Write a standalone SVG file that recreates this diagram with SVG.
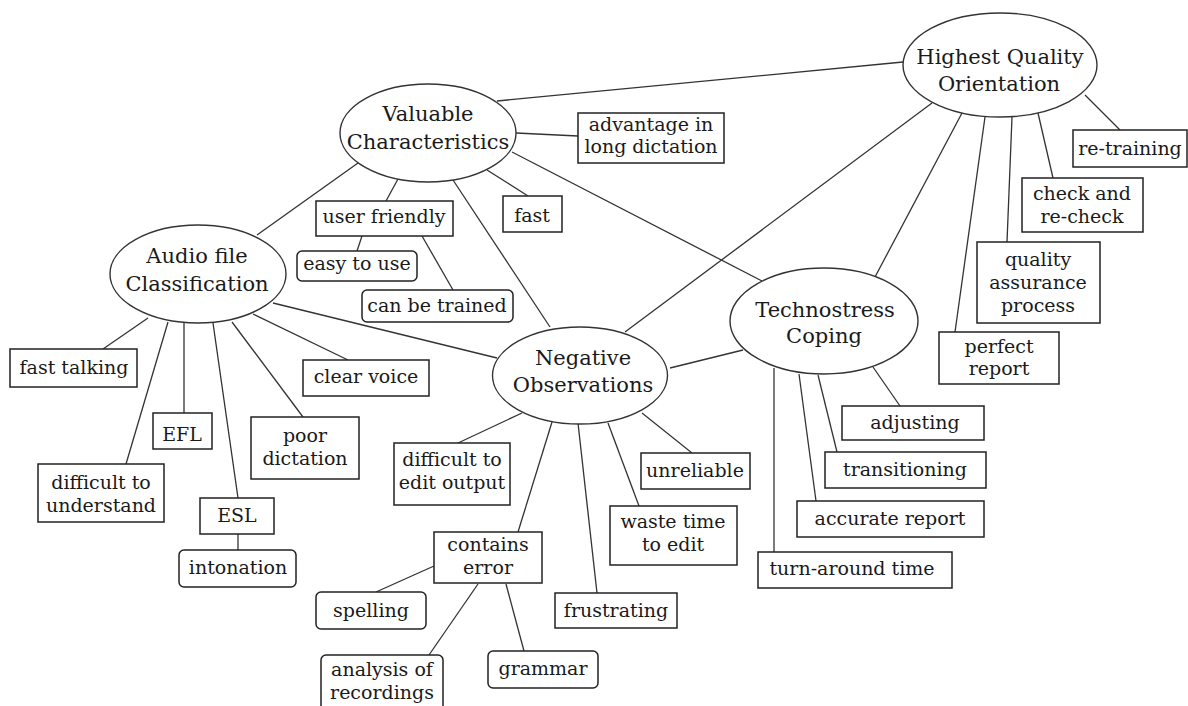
<svg xmlns="http://www.w3.org/2000/svg" width="1188" height="706" viewBox="0 0 1188 706">
<style>
.bg{fill:#fff}
.c line{stroke:#333;stroke-width:1.3;fill:none}
.e{fill:#fff;stroke:#333;stroke-width:1.4}
.b{fill:#fff;stroke:#222;stroke-width:1.5}
.r{fill:#fff;stroke:#222;stroke-width:1.5}
.t{font-family:"DejaVu Serif","Liberation Serif",serif;font-size:19px;fill:#1a1a1a;text-anchor:middle}
.T{font-family:"DejaVu Serif","Liberation Serif",serif;font-size:21px;fill:#1a1a1a;text-anchor:middle}
</style>
<rect class="bg" x="0" y="0" width="1188" height="706"/>
<g id="connectors" class="c">
<line x1="497" y1="101" x2="903" y2="62"/>
<line x1="516" y1="133" x2="578" y2="136"/>
<line x1="398" y1="179" x2="386" y2="201"/>
<line x1="358" y1="163" x2="257" y2="235"/>
<line x1="453" y1="180" x2="550" y2="327"/>
<line x1="487" y1="170" x2="528" y2="196"/>
<line x1="512" y1="152" x2="762" y2="281"/>
<line x1="362" y1="236" x2="357" y2="251"/>
<line x1="422" y1="236" x2="453" y2="290"/>
<line x1="1085" y1="95" x2="1120" y2="130"/>
<line x1="1038" y1="113" x2="1053" y2="178"/>
<line x1="1012" y1="117" x2="1007" y2="242"/>
<line x1="985" y1="117" x2="955" y2="332"/>
<line x1="962" y1="113" x2="875" y2="277"/>
<line x1="932" y1="103" x2="625" y2="332"/>
<line x1="148" y1="318" x2="103" y2="349"/>
<line x1="168" y1="322" x2="126" y2="464"/>
<line x1="184" y1="323" x2="184" y2="413"/>
<line x1="213" y1="323" x2="238" y2="498"/>
<line x1="238" y1="534" x2="238" y2="550"/>
<line x1="232" y1="322" x2="303" y2="417"/>
<line x1="253" y1="314" x2="348" y2="360"/>
<line x1="273" y1="303" x2="497" y2="358"/>
<line x1="522" y1="413" x2="458" y2="443"/>
<line x1="552" y1="422" x2="518" y2="532"/>
<line x1="578" y1="423" x2="597" y2="593"/>
<line x1="608" y1="423" x2="639" y2="506"/>
<line x1="642" y1="413" x2="692" y2="453"/>
<line x1="670" y1="368" x2="743" y2="350"/>
<line x1="434" y1="566" x2="376" y2="592"/>
<line x1="478" y1="584" x2="429" y2="655"/>
<line x1="506" y1="584" x2="524" y2="651"/>
<line x1="873" y1="367" x2="900" y2="406"/>
<line x1="818" y1="375" x2="837" y2="452"/>
<line x1="799" y1="374" x2="816" y2="501"/>
<line x1="774" y1="368" x2="774" y2="552"/>
</g>
<g id="valuable"><ellipse class="e" cx="428" cy="133" rx="88" ry="49"/><text class="T" x="428" y="121">Valuable</text><text class="T" x="428" y="149">Characteristics</text></g>
<g id="highest"><ellipse class="e" cx="1000" cy="65" rx="97" ry="52"/><text class="T" x="1000" y="64">Highest Quality</text><text class="T" x="999" y="91">Orientation</text></g>
<g id="audio"><ellipse class="e" cx="198" cy="274" rx="88" ry="49"/><text class="T" x="197" y="263">Audio file</text><text class="T" x="197" y="291">Classification</text></g>
<g id="negative"><ellipse class="e" cx="580" cy="375.5" rx="87.5" ry="48.5"/><text class="T" x="583" y="365">Negative</text><text class="T" x="583" y="392">Observations</text></g>
<g id="techno"><ellipse class="e" cx="824" cy="321" rx="94" ry="53"/><text class="T" x="825" y="317">Technostress</text><text class="T" x="824" y="343">Coping</text></g>

<g id="advantage"><rect class="b" x="578" y="113" width="146" height="50"/><text class="t" x="651" y="131">advantage in</text><text class="t" x="651" y="153">long dictation</text></g>
<g id="userfriendly"><rect class="b" x="316" y="201" width="137" height="35"/><text class="t" x="384" y="223">user friendly</text></g>
<g id="fast"><rect class="b" x="503" y="196" width="59" height="36"/><text class="t" x="532" y="222">fast</text></g>
<g id="easy"><rect class="r" x="297" y="251" width="120" height="30" rx="5"/><text class="t" x="357" y="270">easy to use</text></g>
<g id="trained"><rect class="r" x="362" y="290" width="151" height="32" rx="5"/><text class="t" x="437" y="312">can be trained</text></g>
<g id="retraining"><rect class="b" x="1073" y="130" width="114" height="37"/><text class="t" x="1130" y="155">re-training</text></g>
<g id="check"><rect class="b" x="1022" y="178" width="121" height="54"/><text class="t" x="1082" y="200">check and</text><text class="t" x="1082" y="223">re-check</text></g>
<g id="quality"><rect class="b" x="977" y="242" width="123" height="81"/><text class="t" x="1038" y="266">quality</text><text class="t" x="1038" y="289">assurance</text><text class="t" x="1038" y="312">process</text></g>
<g id="perfect"><rect class="b" x="939" y="332" width="120" height="52"/><text class="t" x="999" y="353">perfect</text><text class="t" x="999" y="375">report</text></g>
<g id="fasttalking"><rect class="b" x="10" y="349" width="127" height="38"/><text class="t" x="74" y="374">fast talking</text></g>
<g id="efl"><rect class="b" x="153" y="413" width="59" height="36"/><text class="t" x="182" y="441">EFL</text></g>
<g id="poor"><rect class="b" x="251" y="417" width="108" height="62"/><text class="t" x="305" y="442">poor</text><text class="t" x="305" y="465">dictation</text></g>
<g id="clear"><rect class="b" x="303" y="360" width="126" height="36"/><text class="t" x="366" y="383">clear voice</text></g>
<g id="difficult"><rect class="b" x="38" y="464" width="126" height="58"/><text class="t" x="101" y="489">difficult to</text><text class="t" x="101" y="512">understand</text></g>
<g id="esl"><rect class="b" x="200" y="498" width="74" height="36"/><text class="t" x="237" y="522">ESL</text></g>
<g id="intonation"><rect class="r" x="179" y="550" width="117" height="37" rx="5"/><text class="t" x="238" y="574">intonation</text></g>
<g id="editoutput"><rect class="b" x="394" y="443" width="116" height="62"/><text class="t" x="452" y="466">difficult to</text><text class="t" x="452" y="489">edit output</text></g>
<g id="contains"><rect class="b" x="434" y="532" width="108" height="51"/><text class="t" x="488" y="551">contains</text><text class="t" x="488" y="574">error</text></g>
<g id="spelling"><rect class="r" x="316" y="592" width="110" height="37" rx="5"/><text class="t" x="371" y="617">spelling</text></g>
<g id="analysis"><rect class="r" x="321" y="655" width="122" height="62" rx="5"/><text class="t" x="382" y="676">analysis of</text><text class="t" x="382" y="699">recordings</text></g>
<g id="grammar"><rect class="r" x="488" y="651" width="110" height="37" rx="5"/><text class="t" x="543" y="675">grammar</text></g>
<g id="frustrating"><rect class="b" x="555" y="593" width="122" height="35"/><text class="t" x="616" y="617">frustrating</text></g>
<g id="waste"><rect class="b" x="610" y="506" width="127" height="59"/><text class="t" x="673" y="528">waste time</text><text class="t" x="673" y="551">to edit</text></g>
<g id="unreliable"><rect class="b" x="641" y="453" width="109" height="36"/><text class="t" x="695" y="477">unreliable</text></g>
<g id="adjusting"><rect class="b" x="842" y="406" width="142" height="34"/><text class="t" x="915" y="429">adjusting</text></g>
<g id="transitioning"><rect class="b" x="825" y="452" width="161" height="36"/><text class="t" x="905" y="476">transitioning</text></g>
<g id="accurate"><rect class="b" x="797" y="501" width="187" height="36"/><text class="t" x="890" y="525">accurate report</text></g>
<g id="turnaround"><rect class="b" x="758" y="552" width="194" height="36"/><text class="t" x="852" y="575">turn-around time</text></g>
</svg>
